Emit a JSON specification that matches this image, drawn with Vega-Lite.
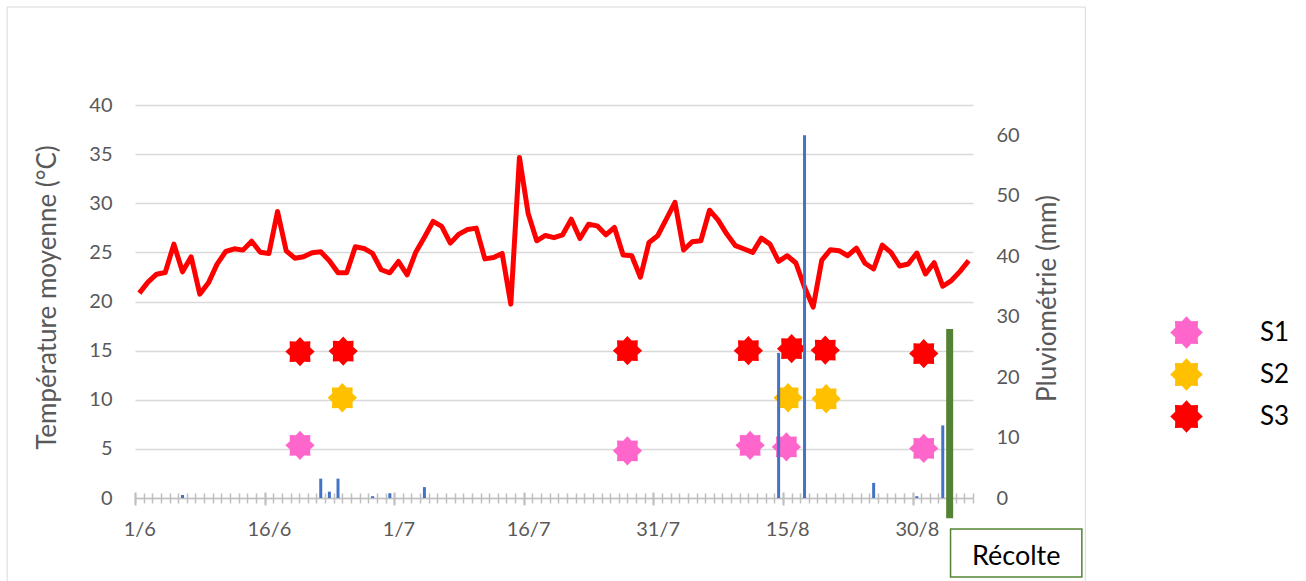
{
  "$schema": "https://vega.github.io/schema/vega-lite/v6.json",
  "width": 838,
  "height": 393,
  "autosize": "none",
  "padding": {"left": 135, "top": 105, "right": 333, "bottom": 83},
  "background": "white",
  "config": {
    "font": "Lato",
    "view": {"stroke": null},
    "axis": {"labelFont": "Lato", "titleFont": "Lato", "titleFontWeight": "normal"},
    "legend": {"labelFont": "Lato"}
  },
  "datasets": {
    "temperature": [
      {"jour":0,"temp":20.85},{"jour":1,"temp":21.97},{"jour":2,"temp":22.78},{"jour":3,"temp":22.95},{"jour":4,"temp":25.84},
      {"jour":5,"temp":23.02},{"jour":6,"temp":24.55},{"jour":7,"temp":20.75},{"jour":8,"temp":21.9},{"jour":9,"temp":23.8},
      {"jour":10,"temp":25.09},{"jour":11,"temp":25.36},{"jour":12,"temp":25.23},{"jour":13,"temp":26.14},{"jour":14,"temp":25.02},
      {"jour":15,"temp":24.89},{"jour":16,"temp":29.16},{"jour":17,"temp":25.16},{"jour":18,"temp":24.41},{"jour":19,"temp":24.55},
      {"jour":20,"temp":24.96},{"jour":21,"temp":25.06},{"jour":22,"temp":24.14},{"jour":23,"temp":22.92},{"jour":24,"temp":22.92},
      {"jour":25,"temp":25.57},{"jour":26,"temp":25.4},{"jour":27,"temp":24.89},{"jour":28,"temp":23.23},{"jour":29,"temp":22.92},
      {"jour":30,"temp":24.07},{"jour":31,"temp":22.72},{"jour":32,"temp":25.02},{"jour":33,"temp":26.55},{"jour":34,"temp":28.15},
      {"jour":35,"temp":27.64},{"jour":36,"temp":25.94},{"jour":37,"temp":26.86},{"jour":38,"temp":27.33},{"jour":39,"temp":27.47},
      {"jour":40,"temp":24.34},{"jour":41,"temp":24.48},{"jour":42,"temp":24.89},{"jour":43,"temp":19.73},{"jour":44,"temp":34.66},
      {"jour":45,"temp":28.99},{"jour":46,"temp":26.18},{"jour":47,"temp":26.72},{"jour":48,"temp":26.5},{"jour":49,"temp":26.79},
      {"jour":50,"temp":28.38},{"jour":51,"temp":26.42},{"jour":52,"temp":27.87},{"jour":53,"temp":27.7},{"jour":54,"temp":26.79},
      {"jour":55,"temp":27.53},{"jour":56,"temp":24.73},{"jour":57,"temp":24.66},{"jour":58,"temp":22.47},{"jour":59,"temp":26.01},
      {"jour":60,"temp":26.69},{"jour":61,"temp":28.38},{"jour":62,"temp":30.1},{"jour":63,"temp":25.24},{"jour":64,"temp":26.08},
      {"jour":65,"temp":26.18},{"jour":66,"temp":29.29},{"jour":67,"temp":28.28},{"jour":68,"temp":26.86},{"jour":69,"temp":25.68},
      {"jour":70,"temp":25.34},{"jour":71,"temp":25.0},{"jour":72,"temp":26.45},{"jour":73,"temp":25.84},{"jour":74,"temp":24.09},
      {"jour":75,"temp":24.66},{"jour":76,"temp":23.92},{"jour":77,"temp":21.45},{"jour":78,"temp":19.43},{"jour":79,"temp":24.22},
      {"jour":80,"temp":25.27},{"jour":81,"temp":25.17},{"jour":82,"temp":24.66},{"jour":83,"temp":25.44},{"jour":84,"temp":23.89},
      {"jour":85,"temp":23.31},{"jour":86,"temp":25.74},{"jour":87,"temp":25.0},{"jour":88,"temp":23.61},{"jour":89,"temp":23.82},
      {"jour":90,"temp":24.93},{"jour":91,"temp":22.8},{"jour":92,"temp":23.95},{"jour":93,"temp":21.55},{"jour":94,"temp":22.13},
      {"jour":95,"temp":23.07},{"jour":96,"temp":24.16}
    ],
    "pluie": [
      {"jour":5,"mm":0.5},{"jour":21,"mm":3.2},{"jour":22,"mm":1.05},{"jour":23,"mm":3.2},{"jour":27,"mm":0.3},
      {"jour":29,"mm":0.8},{"jour":33,"mm":1.8},{"jour":74,"mm":24},{"jour":77,"mm":60},{"jour":85,"mm":2.5},
      {"jour":90,"mm":0.3},{"jour":93,"mm":12}
    ],
    "semis": [
      {"serie":"S1","jour":18.6,"val":5.36},{"serie":"S1","jour":56.5,"val":4.8},{"serie":"S1","jour":70.7,"val":5.36},
      {"serie":"S1","jour":74.9,"val":5.2},{"serie":"S1","jour":90.8,"val":5.05},
      {"serie":"S2","jour":23.5,"val":10.2},{"serie":"S2","jour":75.1,"val":10.2},{"serie":"S2","jour":79.5,"val":10.1},
      {"serie":"S3","jour":18.6,"val":14.9},{"serie":"S3","jour":23.6,"val":14.95},{"serie":"S3","jour":56.5,"val":15.0},
      {"serie":"S3","jour":70.5,"val":15.0},{"serie":"S3","jour":75.5,"val":15.2},{"serie":"S3","jour":79.4,"val":15.05},
      {"serie":"S3","jour":90.8,"val":14.7}
    ],
    "recolte": [{"jour":93.8,"label":"Récolte"}]
  },
  "layer": [
    {
      "layer": [
        {
          "data": {"values": [{}]},
          "mark": {"type": "rect", "fillOpacity": 0, "stroke": "#D9D9D9", "strokeWidth": 1},
          "encoding": {
            "x": {"datum": -15.3, "type": "quantitative", "scale": {"domain": [-0.5, 96.5], "nice": false, "zero": false, "padding": 0}, "axis": null},
            "x2": {"datum": 109.5},
            "y": {"datum": 49.97, "type": "quantitative", "scale": {"domain": [0, 40], "nice": false, "padding": 0}},
            "y2": {"datum": -9.6}
          }
        },
        {
          "data": {"name": "temperature"},
          "mark": {"type": "line", "color": "#FF0000", "strokeWidth": 5, "strokeJoin": "round"},
          "encoding": {
            "x": {"field": "jour", "type": "quantitative",
              "axis": {"orient": "bottom", "title": null, "labels": false, "domain": false, "grid": false,
                "values": [-0.5,0.5,1.5,2.5,3.5,4.5,5.5,6.5,7.5,8.5,9.5,10.5,11.5,12.5,13.5,14.5,15.5,16.5,17.5,18.5,19.5,20.5,21.5,22.5,23.5,24.5,25.5,26.5,27.5,28.5,29.5,30.5,31.5,32.5,33.5,34.5,35.5,36.5,37.5,38.5,39.5,40.5,41.5,42.5,43.5,44.5,45.5,46.5,47.5,48.5,49.5,50.5,51.5,52.5,53.5,54.5,55.5,56.5,57.5,58.5,59.5,60.5,61.5,62.5,63.5,64.5,65.5,66.5,67.5,68.5,69.5,70.5,71.5,72.5,73.5,74.5,75.5,76.5,77.5,78.5,79.5,80.5,81.5,82.5,83.5,84.5,85.5,86.5,87.5,88.5,89.5,90.5,91.5,92.5,93.5,94.5,95.5,96.5],
                "ticks": true, "tickSize": -5, "tickColor": "#BFBFBF", "tickWidth": 1.5}},
            "y": {"field": "temp", "type": "quantitative",
              "axis": {"orient": "left", "values": [0,5,10,15,20,25,30,35,40], "title": "Température moyenne (°C)",
                "grid": true, "gridColor": "#D9D9D9", "gridWidth": 1.5, "domain": false, "ticks": false,
                "labels": true, "labelPadding": 23, "labelFontSize": 20, "labelColor": "#595959",
                "titleFontSize": 26, "titleColor": "#595959", "titleX": -88, "titleY": 192, "titleAngle": -90,
                "titleBaseline": "middle", "titleAlign": "center"}}
          }
        },
        {
          "data": {"name": "semis"},
          "mark": {"type": "point", "filled": true, "opacity": 1, "size": 860,
            "shape": "M0,-1L0.287,-0.693L0.707,-0.707L0.693,-0.287L1,0L0.693,0.287L0.707,0.707L0.287,0.693L0,1L-0.287,0.693L-0.707,0.707L-0.693,0.287L-1,0L-0.693,-0.287L-0.707,-0.707L-0.287,-0.693Z"},
          "encoding": {
            "x": {"field": "jour", "type": "quantitative",
              "axis": {"orient": "bottom", "title": null, "values": [0,15,30,45,60,75,90], "ticks": false, "domain": false, "grid": false,
                "labelExpr": "timeFormat(datetime(2021, 5, 1 + datum.value), '%-d/%-m')",
                "labelFontSize": 20, "labelColor": "#595959", "labelPadding": 21}},
            "y": {"field": "val", "type": "quantitative"},
            "color": {"field": "serie", "type": "nominal",
              "scale": {"domain": ["S1","S2","S3"], "range": ["#FF66CC","#FFC000","#FF0000"]},
              "legend": {"orient": "none", "legendX": 1035, "legendY": 211, "title": null, "padding": 0,
                "symbolType": "M0,-1L0.287,-0.693L0.707,-0.707L0.693,-0.287L1,0L0.693,0.287L0.707,0.707L0.287,0.693L0,1L-0.287,0.693L-0.707,0.707L-0.693,0.287L-1,0L-0.693,-0.287L-0.707,-0.707L-0.287,-0.693Z",
                "symbolSize": 1060, "symbolOpacity": 1, "symbolStrokeWidth": 0,
                "labelFontSize": 26, "labelColor": "#000000", "rowPadding": 9, "labelOffset": 57}}
          }
        },
        {
          "data": {"name": "recolte"},
          "mark": {"type": "rule", "color": "#548235", "strokeWidth": 7, "strokeCap": "butt"},
          "encoding": {
            "x": {"field": "jour", "type": "quantitative",
              "axis": {"orient": "bottom", "title": null, "labels": false, "domain": false, "grid": false,
                "values": [-0.5,14.5,29.5,44.5,59.5,74.5,89.5],
                "ticks": true, "tickSize": 7, "tickColor": "#BFBFBF", "tickWidth": 2}},
            "y": {"datum": 17.2, "type": "quantitative"},
            "y2": {"datum": -2.05}
          }
        },
        {
          "data": {"values": [{}]},
          "mark": {"type": "rect", "fill": "white", "stroke": "#548235", "strokeWidth": 1.5},
          "encoding": {
            "x": {"datum": 93.9, "type": "quantitative",
              "axis": {"orient": "bottom", "title": null, "labels": false, "domain": false, "grid": false,
                "values": [-0.5,14.5,29.5,44.5,59.5,74.5,89.5],
                "ticks": true, "tickSize": -6, "tickColor": "#BFBFBF", "tickWidth": 2}},
            "x2": {"datum": 109.1},
            "y": {"datum": -3.15, "type": "quantitative"},
            "y2": {"datum": -8.05}
          }
        },
        {
          "data": {"name": "recolte"},
          "mark": {"type": "text", "fontSize": 27, "color": "#000000", "align": "center", "baseline": "middle", "font": "Lato"},
          "encoding": {
            "x": {"datum": 101.5, "type": "quantitative", "axis": null},
            "y": {"datum": -6.0, "type": "quantitative"},
            "text": {"field": "label"}
          }
        }
      ],
      "resolve": {"axis": {"x": "independent"}}
    },
    {
      "data": {"name": "pluie"},
      "mark": {"type": "bar", "color": "#4472C4", "size": 3},
      "encoding": {
        "x": {"field": "jour", "type": "quantitative",
          "axis": {"orient": "bottom", "title": null, "labels": false, "grid": false,
            "values": [-0.5,0.5,1.5,2.5,3.5,4.5,5.5,6.5,7.5,8.5,9.5,10.5,11.5,12.5,13.5,14.5,15.5,16.5,17.5,18.5,19.5,20.5,21.5,22.5,23.5,24.5,25.5,26.5,27.5,28.5,29.5,30.5,31.5,32.5,33.5,34.5,35.5,36.5,37.5,38.5,39.5,40.5,41.5,42.5,43.5,44.5,45.5,46.5,47.5,48.5,49.5,50.5,51.5,52.5,53.5,54.5,55.5,56.5,57.5,58.5,59.5,60.5,61.5,62.5,63.5,64.5,65.5,66.5,67.5,68.5,69.5,70.5,71.5,72.5,73.5,74.5,75.5,76.5,77.5,78.5,79.5,80.5,81.5,82.5,83.5,84.5,85.5,86.5,87.5,88.5,89.5,90.5,91.5,92.5,93.5,94.5,95.5,96.5],
            "ticks": true, "tickSize": 5, "tickColor": "#BFBFBF", "tickWidth": 1.5,
            "domain": true, "domainColor": "#BFBFBF", "domainWidth": 1.5}},
        "y": {"field": "mm", "type": "quantitative", "scale": {"domain": [0, 65], "nice": false, "padding": 0},
          "axis": {"orient": "right", "values": [0,10,20,30,40,50,60], "title": "Pluviométrie (mm)",
            "grid": false, "domain": false, "ticks": false,
            "labelPadding": 23, "labelFontSize": 20, "labelColor": "#595959",
            "titleFontSize": 26, "titleColor": "#595959", "titleX": 74, "titleY": 193, "titleAngle": -90,
            "titleBaseline": "middle", "titleAlign": "center"}}
      }
    }
  ],
  "resolve": {"scale": {"y": "independent"}, "axis": {"x": "independent"}}
}
